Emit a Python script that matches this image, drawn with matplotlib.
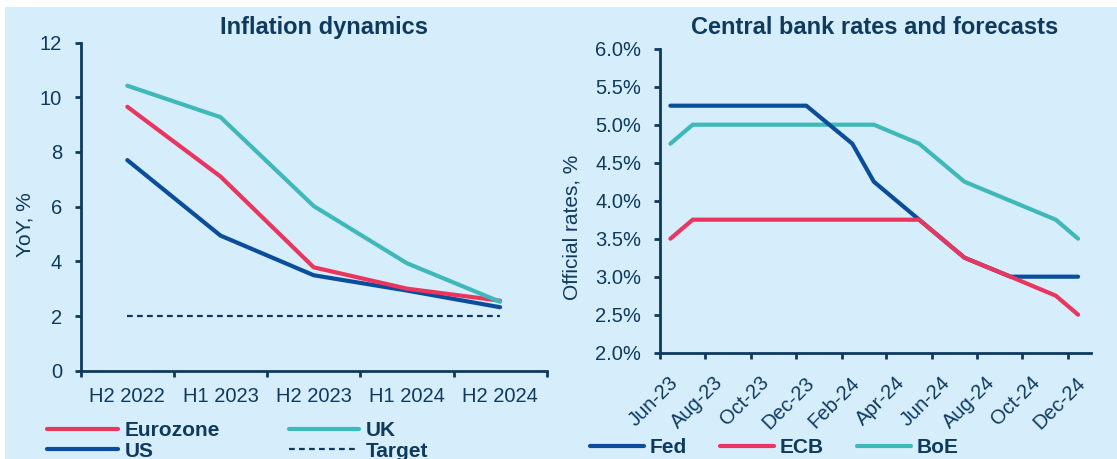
import datetime as dt

import matplotlib
matplotlib.use("Agg")
import matplotlib.pyplot as plt
import matplotlib.dates as mdates
from matplotlib.patches import Rectangle
from matplotlib.transforms import ScaledTranslation
from matplotlib.ticker import FuncFormatter

plt.rcParams["font.family"] = ["Liberation Sans", "DejaVu Sans"]

# --- inflation (left panel) ---
periods = ["H2 2022", "H1 2023", "H2 2023", "H1 2024", "H2 2024"]
eurozone = [9.65, 7.1, 3.78, 3.0, 2.56]
uk = [10.42, 9.27, 6.02, 3.93, 2.52]
us = [7.7, 4.94, 3.49, 2.93, 2.32]
target = [2.0, 2.0, 2.0, 2.0, 2.0]

# --- central bank rates (right panel), vertices of each path ---
fed_dates = ["2023-06-15", "2023-12-15", "2024-02-15", "2024-03-15",
             "2024-05-15", "2024-07-15", "2024-09-15", "2024-12-15"]
fed_rate = [5.25, 5.25, 4.75, 4.25, 3.75, 3.25, 3.0, 3.0]
ecb_dates = ["2023-06-15", "2023-07-15", "2024-05-15", "2024-07-15",
             "2024-09-15", "2024-11-15", "2024-12-15"]
ecb_rate = [3.5, 3.75, 3.75, 3.25, 3.0, 2.75, 2.5]
boe_dates = ["2023-06-15", "2023-07-15", "2024-03-15", "2024-05-15",
             "2024-07-15", "2024-11-15", "2024-12-15"]
boe_rate = [4.75, 5.0, 5.0, 4.75, 4.25, 3.75, 3.5]

BG = "#d6edfc"
NAVY = "#0e3a5e"
RED = "#e8365e"
TEAL = "#3eb8b9"
BLUE = "#0a4e9b"

W, H = 1117, 459
fig = plt.figure(figsize=(W / 100, H / 100), dpi=100, facecolor="white")
fig.patches.append(Rectangle((5 / W, 0), 1, 1 - 7 / H, transform=fig.transFigure,
                             facecolor=BG, edgecolor="none", zorder=-10))


def px(x0, y_top, x1, y_bot):
    # axes rect from pixel box
    return [x0 / W, 1 - y_bot / H, (x1 - x0) / W, (y_bot - y_top) / H]


def style_axes(ax):
    ax.set_facecolor("none")
    for s in ["top", "right"]:
        ax.spines[s].set_visible(False)
    for s in ["left", "bottom"]:
        ax.spines[s].set_color(NAVY)
        ax.spines[s].set_linewidth(2)
    ax.tick_params(colors=NAVY, width=2, length=4.5, labelsize=14.5, direction="out")


# left panel
ax1 = fig.add_axes(px(80.7, 42.5, 546.7, 370.7))
style_axes(ax1)
x = list(range(len(periods)))
ax1.plot(x, target, color=NAVY, lw=1.6, ls=(0, (2.6, 1.9)), label="Target")
ax1.plot(x, us, color=BLUE, lw=3, solid_capstyle="round", label="US")
ax1.plot(x, eurozone, color=RED, lw=3, solid_capstyle="round", label="Eurozone")
ax1.plot(x, uk, color=TEAL, lw=3, solid_capstyle="round", label="UK")
ax1.set_xlim(-0.5, len(periods) - 0.5)
ax1.set_ylim(0, 12)
ax1.set_yticks(range(0, 13, 2))
ax1.set_xticks([i - 0.5 for i in range(len(periods) + 1)])
ax1.set_xticklabels([])
ax1.set_xticks(x, minor=True)
ax1.set_xticklabels(periods, minor=True)
ax1.tick_params(axis="x", which="minor", length=0, pad=11.5, colors=NAVY, labelsize=14.5)
ax1.tick_params(axis="y", pad=9)

fig.text(323.5 / W, 1 - 34.3 / H, "Inflation dynamics", ha="center", va="baseline",
         fontsize=17, fontweight="bold", color=NAVY)
fig.text(25 / W, 1 - 225 / H, "YoY, %", rotation=90, ha="center", va="center",
         fontsize=15, color=NAVY)

h = {l.get_label(): l for l in ax1.get_lines()}
fig.legend([h["Eurozone"], h["US"], h["UK"], h["Target"]],
           ["Eurozone", "US", "UK", "Target"], ncol=2, frameon=False,
           loc="upper left", bbox_to_anchor=(46.7 / W, 1 - 421 / H),
           borderpad=0, borderaxespad=0, handlelength=3.4, handletextpad=0.33,
           columnspacing=3.3, labelspacing=0.08,
           prop={"size": 15, "weight": "bold"}, labelcolor=NAVY)

# right panel
ax2 = fig.add_axes(px(660, 48.7, 1090.7, 352.7))
style_axes(ax2)
fd = [dt.datetime.fromisoformat(d) for d in fed_dates]
ed = [dt.datetime.fromisoformat(d) for d in ecb_dates]
bd = [dt.datetime.fromisoformat(d) for d in boe_dates]
l_boe, = ax2.plot(bd, boe_rate, color=TEAL, lw=3, solid_capstyle="round", label="BoE")
l_fed, = ax2.plot(fd, fed_rate, color=BLUE, lw=3, solid_capstyle="round", label="Fed")
l_ecb, = ax2.plot(ed, ecb_rate, color=RED, lw=3, solid_capstyle="round", label="ECB")
ax2.set_xlim(dt.datetime(2023, 6, 1), dt.datetime(2025, 1, 1))
ax2.set_ylim(2.0, 6.0)
ax2.set_yticks([2.0 + 0.5 * i for i in range(9)])
ax2.yaxis.set_major_formatter(FuncFormatter(lambda v, p: f"{v:.1f}%"))
ax2.tick_params(axis="y", pad=9)
month_ticks = [dt.datetime(2023 + (5 + 2 * i) // 12, (5 + 2 * i) % 12 + 1, 1) for i in range(10)]
ax2.set_xticks(month_ticks)
ax2.xaxis.set_major_formatter(mdates.DateFormatter("%b-%y"))
ax2.tick_params(axis="x", pad=15, labelsize=14.5)
shift = ScaledTranslation(0.15, 0, fig.dpi_scale_trans)
for lab in ax2.get_xticklabels():
    lab.set_rotation(45)
    lab.set_ha("right")
    lab.set_va("center")
    lab.set_rotation_mode("anchor")
    lab.set_transform(lab.get_transform() + shift)

fig.text(875 / W, 1 - 34.3 / H, "Central bank rates and forecasts", ha="center",
         va="baseline", fontsize=17, fontweight="bold", color=NAVY)
fig.text(571.7 / W, 1 - 227 / H, "Official rates, %", rotation=90, ha="center",
         va="center", fontsize=15, color=NAVY)

fig.legend([l_fed, l_ecb, l_boe], ["Fed", "ECB", "BoE"], ncol=3, frameon=False,
           loc="upper left", bbox_to_anchor=(590 / W, 1 - 438 / H),
           borderpad=0, borderaxespad=0, handlelength=2.6, handletextpad=0.25,
           columnspacing=1.6, prop={"size": 15, "weight": "bold"}, labelcolor=NAVY)

fig.savefig("out.png", dpi=100, facecolor="white")
